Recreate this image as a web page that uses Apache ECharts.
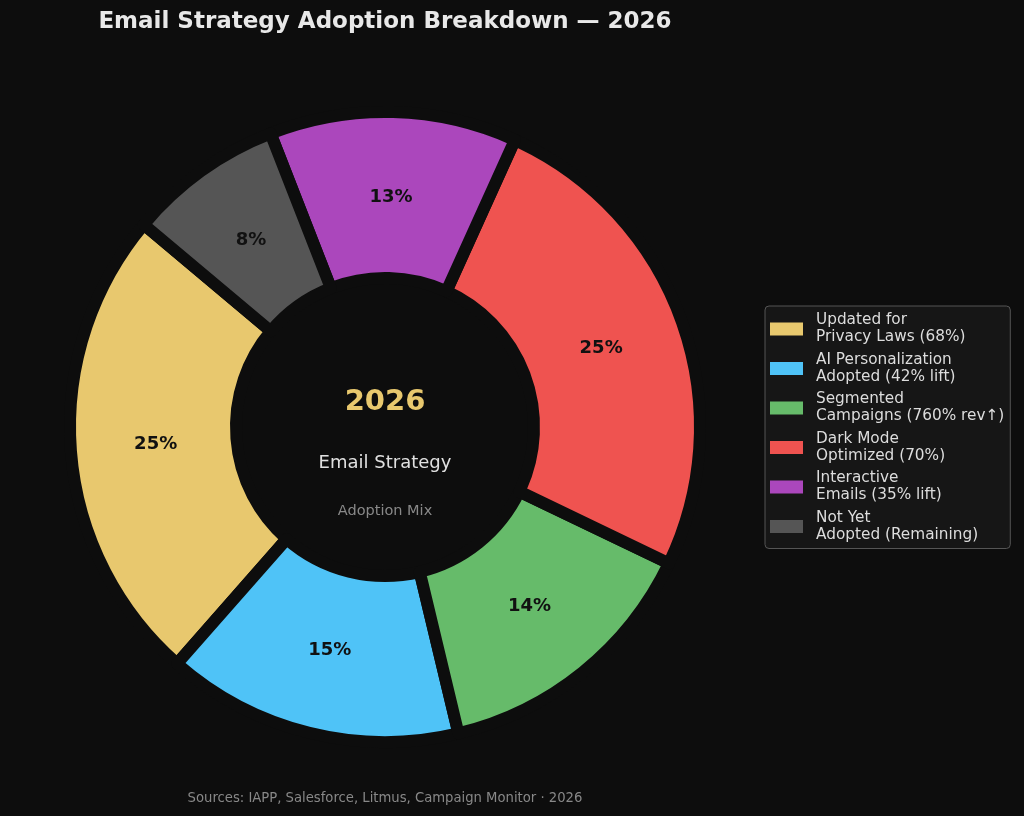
<!DOCTYPE html>
<html>
<head>
<meta charset="utf-8">
<script src="https://cdn.jsdelivr.net/npm/echarts@6/dist/echarts.min.js"></script>
<style>
  html, body { margin: 0; padding: 0; background: #0d0d0d; }
  #chart { width: 1024px; height: 816px; }
</style>
</head>
<body>
<div id="chart"></div>
<script>
// slice data, in drawing order (counter-clockwise from 140deg)
const categories = [
  "Updated for Privacy Laws (68%)",
  "AI Personalization Adopted (42% lift)",
  "Segmented Campaigns (760% rev\u2191)",
  "Dark Mode Optimized (70%)",
  "Interactive Emails (35% lift)",
  "Not Yet Adopted (Remaining)"
];
const legendLabels = [
  "Updated for\nPrivacy Laws (68%)",
  "AI Personalization\nAdopted (42% lift)",
  "Segmented\nCampaigns (760% rev\u2191)",
  "Dark Mode\nOptimized (70%)",
  "Interactive\nEmails (35% lift)",
  "Not Yet\nAdopted (Remaining)"
];
const values = [68, 42, 39, 70, 35, 22];
const colors = ["#e8c86e", "#4fc3f7", "#66bb6a", "#ef5350", "#ab47bc", "#555555"];

const font = "DejaVu Sans, sans-serif";
const chart = echarts.init(document.getElementById("chart"));

let pieData = [];
let labelData = [];
for (let i = 0; i < categories.length; i++) {
  pieData.push({
    name: categories[i],
    value: values[i],
    itemStyle: { color: colors[i] }
  });
  labelData.push({ name: categories[i], value: values[i] });
}

let option = {
  backgroundColor: "#0d0d0d",
  animation: false,
  title: [
    {
      text: "Email Strategy Adoption Breakdown \u2014 2026",
      left: 380, top: 6, textAlign: "center",
      textStyle: { color: "#e8e8e8", fontSize: 23, fontWeight: "bold", fontFamily: font }
    },
    {
      text: "2026",
      left: 380, top: 383, textAlign: "center",
      textStyle: { color: "#e8c86e", fontSize: 29, fontWeight: "bold", fontFamily: font }
    },
    {
      text: "Email Strategy",
      left: 380, top: 449, textAlign: "center",
      textStyle: { color: "#e0e0e0", fontSize: 18, fontWeight: "normal", fontFamily: font }
    },
    {
      text: "Adoption Mix",
      left: 380, top: 499, textAlign: "center",
      textStyle: { color: "#888888", fontSize: 14.5, fontWeight: "normal", fontFamily: font }
    },
    {
      text: "Sources: IAPP, Salesforce, Litmus, Campaign Monitor \u00b7 2026",
      left: 380, top: 787, textAlign: "center",
      textStyle: { color: "#888888", fontSize: 13.2, fontWeight: "normal", fontFamily: font }
    }
  ],
  legend: {
    orient: "vertical",
    left: 765,
    top: 306,
    data: categories,
    backgroundColor: "#161616",
    borderColor: "#555555",
    borderWidth: 1,
    borderRadius: 4,
    padding: [6, 6, 5, 5],
    itemWidth: 33,
    itemHeight: 13,
    itemGap: 5.5,
    icon: "rect",
    itemStyle: { borderWidth: 0 },
    formatter: function (name) {
      return legendLabels[categories.indexOf(name)];
    },
    textStyle: {
      color: "#dddddd",
      fontSize: 15.3,
      lineHeight: 17,
      fontFamily: font,
      padding: [0, 0, 0, 8]
    }
  },
  series: [
    {
      type: "pie",
      center: [385, 427],
      radius: [149, 315],
      startAngle: 140,
      clockwise: false,
      itemStyle: { borderColor: "#0d0d0d", borderWidth: 12 },
      label: { show: false },
      labelLine: { show: false },
      emphasis: { disabled: true },
      data: pieData
    },
    {
      // invisible ring used only to place the percent labels a bit inward
      type: "pie",
      center: [385, 427],
      radius: [139, 315],
      startAngle: 140,
      clockwise: false,
      silent: true,
      percentPrecision: 0,
      itemStyle: { color: "rgba(0,0,0,0)", borderWidth: 0 },
      label: {
        show: true,
        position: "inside",
        formatter: "{d}%",
        color: "#111111",
        fontSize: 18,
        fontWeight: "bold",
        fontFamily: font
      },
      labelLine: { show: false },
      emphasis: { disabled: true },
      data: labelData
    }
  ]
};

chart.setOption(option, true);
</script>
</body>
</html>
